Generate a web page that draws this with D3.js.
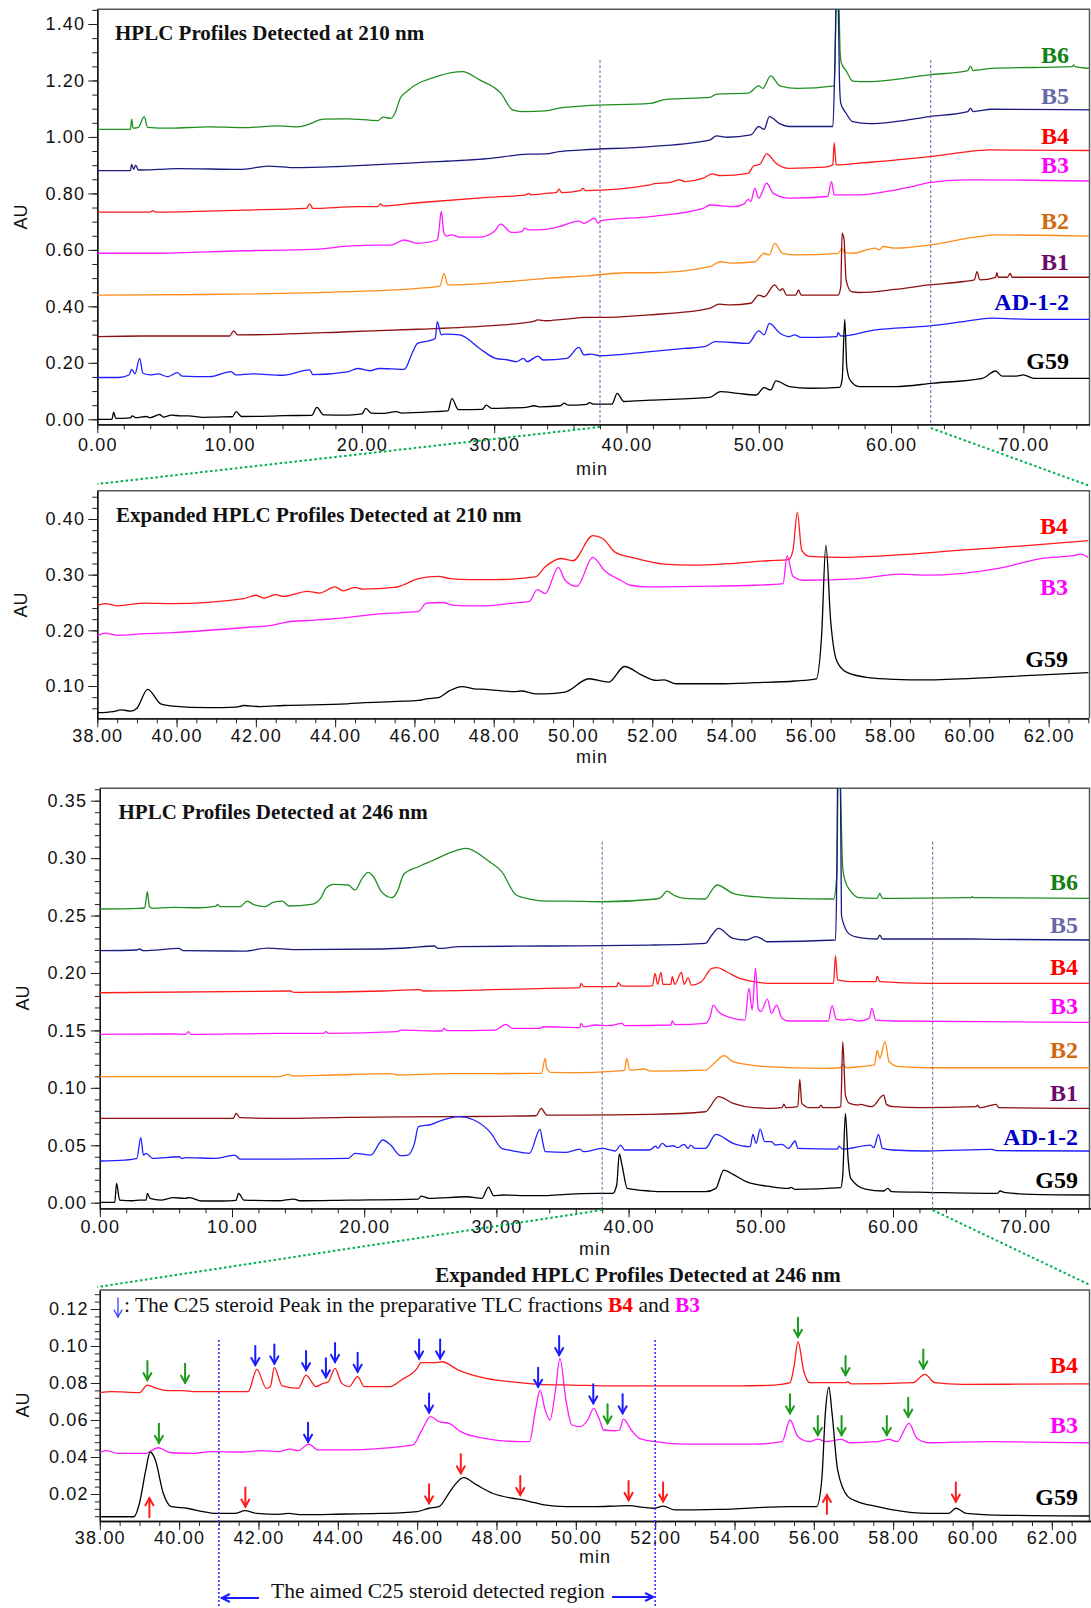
<!DOCTYPE html>
<html>
<head>
<meta charset="utf-8">
<script src="https://cdn.jsdelivr.net/npm/d3@7"></script>
<style>
  body { margin: 0; background: #fff; }
  svg text { font-family: "Liberation Sans", Arial, sans-serif; }
  .serif { font-family: "Liberation Serif", "Times New Roman", serif; }
</style>
</head>
<body>
<div id="chart"></div>
<script>
// ---- series / labels ----
const fullNames = ["B6", "B5", "B4", "B3", "B2", "B1", "AD-1-2", "G59"];
const expNames = ["B4", "B3", "G59"];
const lineColor = {"B6": "#1f8f1f", "B5": "#1a1a80", "B4": "#ff1a1a", "B3": "#ff1aff",
  "B2": "#ff8c1a", "B1": "#8b1010", "AD-1-2": "#1f1fff", "G59": "#000000"};
const labelColor = {"B6": "#138013", "B5": "#6868a8", "B4": "#ff0000", "B3": "#ff00ff",
  "B2": "#d0690f", "B1": "#6b0a6b", "AD-1-2": "#0000c8", "G59": "#000000"};

// ---- tick labels ----
const p1XTicks = [0, 10, 20, 30, 40, 50, 60, 70];
const p1YTicks = [0, 0.2, 0.4, 0.6, 0.8, 1.0, 1.2, 1.4];
const p2XTicks = [38, 40, 42, 44, 46, 48, 50, 52, 54, 56, 58, 60, 62];
const p2YTicks = [0.1, 0.2, 0.3, 0.4];
const p3XTicks = [0, 10, 20, 30, 40, 50, 60, 70];
const p3YTicks = [0, 0.05, 0.1, 0.15, 0.2, 0.25, 0.3, 0.35];
const p4XTicks = [38, 40, 42, 44, 46, 48, 50, 52, 54, 56, 58, 60, 62];
const p4YTicks = [0.02, 0.04, 0.06, 0.08, 0.1, 0.12];

// ---- 210 nm, full run [min, AU] ----
const uv210_G59 = [[0,0],[1.1,0],[1.24,0.025],[1.4,0.003],[2.5,0.005],[2.65,0.012],[2.9,0.006],[3.7,0.01],[4.0,0.006],[4.7,0.017],[5.0,0.008],[5.6,0.015],[6.3,0.012],[6.9,0.012],[8,0.007],[9,0.008],[10.2,0.009],[10.5,0.027],[10.9,0.01],[13,0.011],[14.1,0.013],[16.2,0.014],[16.6,0.042],[17.1,0.016],[19,0.015],[20.0,0.019],[20.3,0.039],[20.7,0.022],[21.5,0.021],[22.6,0.027],[23,0.022],[25.5,0.027],[26.5,0.03],[26.8,0.073],[27.3,0.034],[29.1,0.035],[29.4,0.05],[29.8,0.039],[31,0.04],[32.4,0.042],[33.0,0.048],[33.5,0.044],[35.0,0.048],[35.3,0.057],[35.6,0.05],[37.0,0.053],[37.2,0.059],[37.5,0.054],[38.9,0.054],[39.3,0.092],[39.8,0.063],[41.8,0.068],[46.3,0.078],[47.1,0.098],[48.4,0.092],[49.8,0.086],[50.4,0.112],[50.9,0.104],[51.3,0.136],[52.3,0.116],[53.9,0.11],[56.1,0.113],[56.3,0.14],[56.5,0.354],[56.65,0.187],[56.9,0.139],[57.6,0.116],[60.3,0.116],[63.2,0.128],[66.9,0.145],[67.9,0.171],[68.4,0.153],[69.4,0.153],[70,0.157],[70.8,0.145],[75,0.145]];
const uv210_AD = [[0,0.148],[1.6,0.148],[2.4,0.157],[2.6,0.177],[2.85,0.161],[3.2,0.216],[3.45,0.163],[4.0,0.157],[4.6,0.161],[5.3,0.151],[6.05,0.165],[6.4,0.153],[8.5,0.151],[10.1,0.169],[10.5,0.157],[11.7,0.161],[14,0.156],[16.05,0.175],[16.3,0.158],[18.9,0.168],[19.7,0.18],[20.6,0.172],[21.3,0.18],[23.2,0.177],[23.8,0.234],[24.2,0.269],[25.3,0.281],[25.55,0.287],[25.7,0.346],[26.0,0.299],[26.3,0.302],[27.4,0.299],[28.9,0.251],[30.1,0.216],[31.05,0.21],[31.7,0.204],[32.2,0.216],[32.5,0.204],[33.3,0.224],[33.7,0.21],[35.5,0.216],[36.4,0.255],[36.8,0.228],[37.3,0.231],[38,0.225],[39.2,0.228],[41.8,0.24],[44.4,0.251],[45.9,0.257],[46.7,0.275],[49.2,0.269],[50,0.313],[50.4,0.299],[50.8,0.34],[51.6,0.305],[52.3,0.293],[52.7,0.299],[53.2,0.29],[55.9,0.293],[56.0,0.307],[56.2,0.295],[58.7,0.316],[62.9,0.331],[65.5,0.346],[67.6,0.358],[70.8,0.354],[75,0.354]];
const uv210_B1 = [[0,0.293],[3.4,0.295],[10.0,0.295],[10.3,0.313],[10.6,0.299],[13.7,0.301],[18.9,0.31],[24.2,0.319],[29.5,0.331],[32.9,0.346],[33.3,0.352],[33.9,0.349],[35.2,0.354],[37,0.361],[38,0.361],[41.8,0.37],[46.3,0.393],[47,0.408],[47.9,0.405],[49.4,0.411],[50,0.44],[50.4,0.434],[51.2,0.476],[51.6,0.456],[51.8,0.463],[52.1,0.44],[52.8,0.44],[53.0,0.458],[53.2,0.44],[56,0.44],[56.2,0.47],[56.3,0.659],[56.45,0.635],[56.6,0.494],[57,0.452],[57.6,0.449],[60.3,0.46],[62.9,0.476],[65.5,0.488],[66.3,0.494],[66.5,0.523],[66.7,0.494],[67.9,0.503],[68.0,0.519],[68.1,0.503],[68.8,0.503],[69.0,0.517],[69.15,0.503],[75,0.503]];
const uv210_B2 = [[0,0.44],[8.4,0.442],[18.9,0.452],[24.2,0.464],[25.9,0.472],[26.2,0.517],[26.5,0.476],[29.5,0.482],[32.6,0.494],[33.9,0.499],[37,0.508],[40,0.519],[41.8,0.519],[46.3,0.541],[47.1,0.558],[47.9,0.553],[49.7,0.558],[50.4,0.588],[50.8,0.582],[51.2,0.623],[51.8,0.588],[52.9,0.582],[56,0.588],[56.3,0.606],[56.5,0.59],[57.1,0.588],[58.8,0.606],[59.1,0.6],[59.4,0.612],[60.3,0.606],[62.9,0.617],[66.6,0.647],[67.9,0.653],[75,0.649]];
const uv210_B3 = [[0,0.588],[4.2,0.588],[11,0.597],[16.3,0.602],[19.2,0.614],[21.1,0.617],[22.2,0.617],[23.2,0.635],[24.2,0.623],[25.7,0.635],[25.8,0.659],[26.0,0.736],[26.2,0.659],[26.4,0.649],[26.8,0.653],[27.4,0.645],[28.9,0.645],[30,0.665],[30.5,0.691],[31.3,0.662],[32.1,0.665],[32.3,0.677],[32.6,0.671],[33.9,0.673],[34.9,0.682],[36.4,0.702],[36.8,0.694],[37.6,0.712],[37.85,0.694],[38.1,0.704],[41.8,0.718],[45.8,0.747],[46.3,0.759],[48.1,0.753],[48.9,0.763],[49.2,0.779],[49.4,0.771],[49.7,0.818],[50,0.783],[50.6,0.836],[51.1,0.8],[52.3,0.783],[55.2,0.789],[55.5,0.842],[55.7,0.795],[57.6,0.795],[60.3,0.812],[61.6,0.824],[62.9,0.838],[65.5,0.848],[67.1,0.848],[75,0.844]];
const uv210_B4 = [[0,0.734],[4.0,0.734],[4.2,0.739],[4.4,0.734],[11,0.741],[15.8,0.747],[16.05,0.763],[16.3,0.747],[19.7,0.753],[21.2,0.753],[21.4,0.763],[21.6,0.756],[24.2,0.767],[29.5,0.786],[32.4,0.795],[32.6,0.8],[32.8,0.795],[33.9,0.8],[34.7,0.803],[34.9,0.815],[35.1,0.803],[36.5,0.81],[36.7,0.818],[36.9,0.81],[41.8,0.83],[42.1,0.835],[43.2,0.838],[44,0.848],[44.4,0.842],[45.8,0.854],[46.5,0.869],[47.1,0.863],[49.2,0.871],[49.6,0.897],[50.1,0.904],[50.6,0.94],[51.3,0.907],[52.3,0.889],[55,0.893],[55.6,0.901],[55.7,0.98],[55.85,0.901],[57.6,0.907],[62.9,0.93],[65.5,0.946],[67.4,0.954],[75,0.952]];
const uv210_B5 = [[0,0.881],[2.5,0.881],[2.6,0.903],[2.75,0.885],[2.9,0.9],[3.1,0.883],[4.6,0.885],[6.05,0.888],[11,0.885],[12.9,0.897],[15,0.891],[18.9,0.897],[24.2,0.909],[29.5,0.923],[32.6,0.939],[33.9,0.94],[34.9,0.948],[36.7,0.954],[41.8,0.966],[46.3,0.989],[46.8,1.004],[47.6,0.999],[49.4,1.007],[50,1.037],[50.4,1.027],[50.8,1.072],[51.6,1.046],[52.3,1.037],[55.6,1.037],[55.75,1.25],[55.9,1.6],[56.0,1.5],[56.1,1.2],[56.2,1.119],[56.6,1.084],[57.1,1.054],[58.4,1.047],[60.3,1.054],[62.9,1.072],[65.8,1.09],[66,1.102],[66.2,1.09],[67.6,1.098],[75,1.096]];
const uv210_B6 = [[0,1.027],[2.5,1.027],[2.6,1.063],[2.7,1.031],[3.1,1.034],[3.55,1.072],[3.8,1.034],[5.5,1.031],[8.4,1.036],[11,1.033],[13.7,1.039],[15,1.036],[15.8,1.042],[17.1,1.063],[18.9,1.064],[21.2,1.058],[21.6,1.07],[22.2,1.066],[22.5,1.084],[22.9,1.137],[23.4,1.161],[25.8,1.216],[27.6,1.231],[28.9,1.202],[30.5,1.155],[31.4,1.096],[32.1,1.09],[33.9,1.092],[34.9,1.102],[36.8,1.11],[41.8,1.119],[43,1.133],[46.3,1.14],[46.8,1.152],[49.2,1.155],[50,1.181],[50.3,1.172],[50.9,1.216],[51.6,1.181],[52.9,1.172],[55.7,1.181],[55.8,1.35],[55.9,1.6],[56.05,1.5],[56.15,1.3],[56.25,1.261],[56.6,1.235],[57.1,1.198],[58.2,1.196],[62.9,1.22],[65.8,1.235],[66,1.251],[66.2,1.235],[67.6,1.243],[73.7,1.249],[73.8,1.255],[73.9,1.249],[75,1.243]];

// ---- 210 nm, expanded ----
const exp210_G59 = [[38,0.052],[38.4,0.054],[38.6,0.057],[38.85,0.055],[39.0,0.06],[39.27,0.094],[39.6,0.068],[39.9,0.064],[40.8,0.061],[41.5,0.062],[41.7,0.065],[42.1,0.063],[42.7,0.065],[44.3,0.068],[44.75,0.07],[46.1,0.074],[46.3,0.077],[46.6,0.079],[46.9,0.092],[47.2,0.099],[47.5,0.095],[47.8,0.094],[48.5,0.09],[48.7,0.091],[49.05,0.086],[49.3,0.086],[49.8,0.089],[50.4,0.113],[50.9,0.107],[51.3,0.135],[51.75,0.119],[52.1,0.11],[52.3,0.111],[52.6,0.104],[53.7,0.104],[54.6,0.106],[55.6,0.109],[56.14,0.113],[56.27,0.188],[56.38,0.353],[56.5,0.218],[56.65,0.146],[56.9,0.125],[57.46,0.115],[58.1,0.112],[58.9,0.111],[60.7,0.116],[63,0.124]];
const exp210_B3 = [[38,0.19],[38.2,0.195],[38.5,0.191],[39.2,0.194],[39.9,0.196],[41.9,0.206],[42.4,0.209],[42.8,0.215],[43.4,0.218],[44.3,0.223],[45.2,0.23],[46.1,0.234],[46.3,0.249],[46.7,0.25],[47,0.245],[47.8,0.244],[48.5,0.249],[48.9,0.252],[49.1,0.273],[49.3,0.266],[49.63,0.313],[49.8,0.29],[50.1,0.279],[50.5,0.331],[50.8,0.307],[51.2,0.29],[51.45,0.281],[51.9,0.278],[53.2,0.279],[54.6,0.281],[55.3,0.284],[55.4,0.334],[55.55,0.297],[55.8,0.29],[57.2,0.293],[58.3,0.301],[58.9,0.299],[60.7,0.311],[61.8,0.329],[62.7,0.335],[62.8,0.337],[63,0.331]];
const exp210_B4 = [[38,0.245],[38.2,0.248],[38.5,0.244],[39.2,0.249],[39.9,0.248],[41.7,0.257],[42,0.263],[42.2,0.258],[42.5,0.264],[42.7,0.261],[43.3,0.27],[43.6,0.267],[44,0.278],[44.2,0.271],[44.5,0.277],[44.7,0.274],[45.5,0.277],[45.7,0.281],[46.1,0.293],[46.6,0.297],[46.9,0.293],[47.4,0.291],[48,0.291],[49.05,0.296],[49.3,0.314],[49.7,0.329],[50,0.325],[50.5,0.37],[50.75,0.365],[51.05,0.341],[51.6,0.329],[52.3,0.319],[53,0.317],[54,0.32],[54.9,0.325],[55.44,0.327],[55.55,0.344],[55.66,0.412],[55.77,0.344],[55.96,0.333],[56.75,0.331],[58.1,0.335],[59.8,0.344],[61.6,0.353],[63,0.361]];

// ---- 246 nm, full run ----
const uv246_G59 = [[0,0.0003],[1.13,0.0003],[1.27,0.0168],[1.5,0.0023],[2.5,0.0017],[3.0,0.0023],[3.5,0.0023],[3.6,0.0081],[3.8,0.0038],[4.6,0.0023],[5.6,0.0044],[6.4,0.0038],[6.8,0.0044],[7.7,0.0015],[9.3,0.0015],[10.3,0.002],[10.5,0.0081],[10.9,0.0023],[13.5,0.0017],[14.7,0.0032],[15.1,0.0017],[18.8,0.0023],[24.1,0.0032],[24.3,0.0058],[24.9,0.0038],[27.8,0.0052],[28.9,0.0038],[29.4,0.0136],[29.8,0.0061],[30.5,0.0067],[32.5,0.0061],[33.7,0.0061],[35.3,0.0073],[37.6,0.0081],[38.8,0.0081],[39.1,0.0154],[39.3,0.0424],[39.5,0.0328],[39.9,0.0125],[41.6,0.0102],[42.6,0.0096],[45.8,0.0096],[46.6,0.0125],[47.2,0.0284],[47.9,0.0247],[48.9,0.0183],[50.8,0.0139],[52.1,0.0125],[52.3,0.0133],[52.6,0.0116],[56.05,0.0131],[56.2,0.0241],[56.4,0.0778],[56.6,0.0386],[56.8,0.0212],[57.9,0.0119],[59.3,0.0102],[59.6,0.0125],[59.9,0.0096],[62.6,0.009],[67.9,0.0081],[68.1,0.0102],[68.4,0.009],[70.5,0.0073],[75,0.0067]];
const uv246_AD = [[0,0.0363],[1.9,0.0371],[2.8,0.0386],[3.1,0.0566],[3.3,0.0415],[3.5,0.043],[4.0,0.0386],[6.0,0.04],[6.2,0.0386],[6.5,0.0392],[8.8,0.0386],[10.2,0.0415],[10.6,0.038],[13.5,0.038],[18.8,0.0386],[19.3,0.043],[20.5,0.0415],[21.4,0.0546],[22,0.0502],[22.75,0.0409],[23.3,0.0415],[23.8,0.0517],[24.1,0.0662],[25.1,0.0682],[25.6,0.0705],[27.2,0.0749],[28.3,0.072],[29.6,0.0604],[30.4,0.0473],[30.9,0.0459],[32.0,0.0435],[32.5,0.043],[33.3,0.0638],[33.5,0.0531],[33.7,0.0444],[35.3,0.0438],[36.3,0.0467],[36.6,0.0444],[38,0.0473],[39.0,0.045],[39.4,0.0502],[39.7,0.0459],[41.6,0.0459],[42.05,0.0493],[42.2,0.0473],[42.55,0.0517],[42.9,0.0488],[43.4,0.0496],[43.7,0.0479],[44.2,0.0508],[44.5,0.0473],[44.7,0.0502],[45,0.0473],[45.8,0.0473],[46.6,0.0595],[47.9,0.0517],[49.2,0.0488],[49.4,0.0595],[49.65,0.0517],[49.95,0.0641],[50.3,0.0531],[50.8,0.0531],[51.1,0.0502],[51.6,0.0508],[52.1,0.0473],[52.6,0.0537],[52.8,0.0473],[55.8,0.0467],[55.9,0.0493],[56.2,0.0467],[58.3,0.0502],[58.55,0.0479],[58.9,0.0595],[59.2,0.0473],[60,0.0459],[62.6,0.045],[67.5,0.0464],[67.9,0.0453],[75,0.045]];
const uv246_B1 = [[0,0.0734],[10.1,0.0734],[10.3,0.0778],[10.6,0.074],[13.5,0.0734],[18.8,0.0743],[26.7,0.0749],[33.0,0.0757],[33.4,0.0821],[33.6,0.0792],[33.8,0.0763],[36.3,0.0763],[41.6,0.0769],[45.8,0.0792],[46.8,0.0923],[47.9,0.0865],[49.5,0.0827],[50.8,0.0821],[51.6,0.0827],[51.75,0.0859],[51.9,0.0827],[52.8,0.0836],[52.95,0.1074],[53.1,0.0865],[53.7,0.0827],[54.4,0.0827],[54.55,0.085],[54.7,0.0827],[55.7,0.0827],[56.05,0.0836],[56.2,0.1402],[56.4,0.0937],[56.7,0.0865],[57.4,0.085],[57.5,0.0856],[58.4,0.0836],[59.3,0.0937],[59.5,0.0856],[60,0.0836],[62.1,0.0827],[66.3,0.0836],[66.4,0.085],[66.55,0.0827],[67.8,0.0856],[68.0,0.0827],[75,0.0821]];
const uv246_B2 = [[0,0.1097],[13.5,0.1097],[14.3,0.1117],[14.6,0.1103],[17.7,0.1112],[22.1,0.1123],[22.5,0.1112],[26.2,0.1123],[33.4,0.1126],[33.7,0.1257],[33.8,0.117],[34.1,0.1135],[36.3,0.1132],[38.4,0.1141],[39.7,0.1155],[39.85,0.1257],[40.1,0.1155],[41.2,0.1164],[41.6,0.1146],[45.8,0.1155],[46.6,0.1228],[47.2,0.128],[47.9,0.1228],[48.9,0.1204],[50.5,0.1184],[54.7,0.117],[56,0.1175],[56.2,0.1204],[56.5,0.1175],[57.5,0.1184],[58.6,0.1199],[58.8,0.1326],[59.0,0.1257],[59.4,0.1402],[59.7,0.1228],[60.5,0.1184],[62.6,0.1175],[75,0.1175]];
const uv246_B3 = [[0,0.1466],[5.6,0.1469],[6.5,0.1466],[6.7,0.1489],[6.9,0.1466],[13.5,0.1474],[16.9,0.1474],[17.1,0.1489],[17.3,0.1474],[22.5,0.1489],[22.75,0.1503],[25.9,0.1495],[26,0.1518],[26.3,0.1498],[29.9,0.1503],[30.7,0.1553],[31.2,0.1518],[33.2,0.1518],[33.6,0.1532],[36.3,0.1524],[36.4,0.1561],[36.6,0.153],[37.5,0.1547],[38.5,0.1541],[39.5,0.1561],[39.7,0.1541],[43.2,0.1547],[43.3,0.1582],[43.5,0.155],[45.8,0.1561],[46.2,0.1634],[46.4,0.1721],[46.8,0.1663],[47.9,0.1605],[48.8,0.159],[49.1,0.1866],[49.35,0.168],[49.6,0.204],[49.8,0.1692],[50.0,0.1663],[50.5,0.1773],[50.8,0.1648],[51.2,0.1721],[51.6,0.1605],[52.1,0.1582],[55.1,0.1582],[55.4,0.1715],[55.7,0.1599],[56.2,0.159],[56.7,0.1599],[57.4,0.1582],[58.2,0.1605],[58.4,0.1692],[58.7,0.159],[60,0.1582],[66.8,0.1576],[75,0.157]];
const uv246_B4 = [[0,0.1828],[14.4,0.1843],[14.7,0.1831],[21.4,0.1843],[24.2,0.1855],[24.5,0.1843],[33.8,0.1866],[36.3,0.1872],[36.4,0.191],[36.6,0.1881],[39.1,0.1881],[39.2,0.1915],[39.5,0.1886],[41.6,0.1886],[41.8,0.1889],[42.0,0.1997],[42.2,0.1901],[42.45,0.2005],[42.6,0.1901],[43.2,0.1901],[43.3,0.1968],[43.5,0.1901],[44.0,0.2005],[44.2,0.1901],[44.5,0.1959],[44.75,0.1895],[45.5,0.1924],[46.3,0.204],[46.7,0.2046],[47.4,0.2011],[48.4,0.1953],[49.5,0.1924],[50.5,0.191],[52.6,0.191],[55.5,0.191],[55.65,0.215],[55.8,0.1939],[56.8,0.1924],[58.7,0.1924],[58.8,0.1973],[59.0,0.1924],[62.6,0.191],[75,0.191]];
const uv246_B5 = [[0,0.2194],[2.8,0.22],[3.0,0.2209],[3.3,0.2194],[6.0,0.2214],[6.3,0.2194],[10.9,0.2191],[12.7,0.2217],[14.8,0.2203],[21.4,0.2209],[23.5,0.222],[25.3,0.2235],[25.6,0.2214],[27.2,0.2229],[33.8,0.2235],[41.6,0.2243],[45.8,0.2258],[46.3,0.2331],[46.8,0.2388],[47.9,0.2301],[48.9,0.2287],[49.6,0.2316],[50.0,0.2301],[50.5,0.2272],[55.65,0.2287],[55.75,0.285],[55.85,0.42],[56.0,0.4],[56.1,0.2505],[56.3,0.2417],[56.8,0.2331],[57.9,0.2301],[58.8,0.2296],[59.0,0.233],[59.2,0.2296],[65.9,0.2296],[67.5,0.2293],[75,0.2287]];
const uv246_B6 = [[0,0.2557],[3.0,0.2563],[3.4,0.2568],[3.6,0.2708],[3.75,0.2577],[4.0,0.2563],[5.5,0.2571],[7.5,0.2568],[8.8,0.2583],[8.9,0.2597],[9.1,0.2577],[10.6,0.2577],[11.15,0.2626],[11.7,0.2592],[12.5,0.2577],[13.1,0.2615],[13.8,0.2626],[14.3,0.2583],[16.0,0.2597],[16.7,0.265],[17.1,0.2737],[17.7,0.2772],[18.8,0.2766],[19.3,0.2722],[19.85,0.2824],[20.3,0.2876],[20.7,0.2838],[21.3,0.2708],[22.1,0.2656],[22.5,0.2708],[23,0.2859],[24.1,0.2925],[25.1,0.2975],[26.7,0.3056],[27.1,0.3071],[27.7,0.3085],[29.4,0.2975],[30.4,0.2882],[31.5,0.2679],[32.5,0.2644],[33.8,0.2626],[35.3,0.2626],[38,0.262],[42.1,0.2644],[42.5,0.2664],[42.9,0.2713],[43.4,0.2679],[44.2,0.265],[45.8,0.2644],[46.3,0.2722],[46.7,0.2766],[47.9,0.2693],[49.5,0.2664],[52.1,0.265],[55.5,0.2644],[55.75,0.285],[55.9,0.42],[56.05,0.35],[56.2,0.2911],[56.4,0.2795],[56.8,0.2713],[57.4,0.2656],[58.8,0.265],[59.0,0.2693],[59.2,0.265],[65.9,0.2656],[66.0,0.2664],[66.1,0.2656],[75,0.265]];

// ---- 246 nm, expanded ----
const exp246_G59 = [[38,0.0077],[38.86,0.0077],[39.0,0.015],[39.16,0.033],[39.27,0.0427],[39.4,0.0384],[39.6,0.0204],[39.8,0.0132],[40.2,0.0123],[40.6,0.0105],[40.9,0.0095],[41.4,0.0095],[41.66,0.011],[41.96,0.0095],[42.5,0.009],[42.75,0.0095],[43.1,0.0088],[44.2,0.0092],[45.1,0.0095],[46.0,0.0105],[46.3,0.0123],[46.55,0.0132],[46.8,0.0204],[46.95,0.0249],[47.17,0.0288],[47.5,0.0249],[47.9,0.0204],[48.4,0.0177],[48.6,0.0171],[48.96,0.0153],[49.2,0.0141],[49.75,0.0132],[50.5,0.0132],[51.0,0.0135],[51.35,0.0137],[51.7,0.0128],[51.99,0.0123],[52.2,0.0135],[52.5,0.0114],[53.6,0.0117],[55.4,0.0132],[56.07,0.0132],[56.2,0.0276],[56.29,0.0636],[56.38,0.0777],[56.46,0.0636],[56.6,0.033],[56.86,0.0186],[57.1,0.0159],[57.6,0.0132],[58,0.0114],[58.9,0.0095],[59.4,0.0095],[59.58,0.0123],[59.84,0.0095],[60.6,0.0086],[63,0.0081]];
const exp246_B3 = [[38,0.0423],[38.15,0.0434],[38.46,0.042],[39.16,0.042],[39.47,0.045],[39.8,0.0423],[40.4,0.042],[40.8,0.0429],[41.6,0.0427],[42.05,0.0434],[42.5,0.0429],[42.8,0.0443],[43.0,0.0434],[43.27,0.047],[43.5,0.0438],[44.2,0.0438],[45.1,0.0447],[45.9,0.0465],[46.1,0.0537],[46.34,0.0618],[46.55,0.0591],[46.8,0.0582],[47.1,0.0537],[47.7,0.0501],[48.6,0.0483],[48.83,0.0483],[48.98,0.065],[49.1,0.0762],[49.22,0.066],[49.35,0.06],[49.48,0.075],[49.6,0.0933],[49.75,0.0708],[49.9,0.0573],[50.1,0.0564],[50.3,0.06],[50.45,0.0663],[50.6,0.06],[50.7,0.0546],[51.0,0.0542],[51.1,0.0546],[51.2,0.0605],[51.4,0.0546],[51.6,0.0501],[52.0,0.0483],[52.7,0.047],[54.5,0.047],[55.2,0.0483],[55.4,0.06],[55.6,0.051],[55.9,0.0483],[56.1,0.0497],[56.3,0.0483],[56.7,0.0495],[56.9,0.0477],[57.6,0.0483],[57.9,0.0495],[58.1,0.0483],[58.4,0.0582],[58.6,0.0501],[58.9,0.0477],[60.4,0.0483],[63,0.0477]];
const exp246_B4 = [[38,0.0748],[38.3,0.0753],[39.0,0.0748],[39.2,0.0789],[39.43,0.0771],[39.7,0.0759],[40.1,0.0759],[40.4,0.0753],[41.74,0.0753],[41.96,0.0874],[42.2,0.0771],[42.3,0.078],[42.4,0.0883],[42.6,0.0784],[43.0,0.0771],[43.2,0.0843],[43.45,0.078],[43.6,0.0795],[43.76,0.0807],[43.93,0.0879],[44.1,0.0798],[44.28,0.078],[44.5,0.0834],[44.67,0.078],[45.3,0.078],[45.6,0.0816],[46.0,0.0879],[46.1,0.091],[46.5,0.091],[46.63,0.0915],[47.04,0.087],[47.74,0.0825],[48.6,0.0802],[49.05,0.0793],[49.9,0.0789],[51.0,0.0784],[52.7,0.0784],[54.1,0.0784],[55.0,0.0789],[55.4,0.0802],[55.5,0.0888],[55.6,0.1023],[55.75,0.0861],[55.9,0.0802],[56.8,0.0802],[56.85,0.0807],[56.95,0.0795],[58.5,0.0802],[58.8,0.0847],[59.05,0.0802],[59.75,0.0793],[63,0.0795]];

// ---- peak markers in the expanded 246 nm panel [min, AU at arrow tip] ----
const greenArrows = [[39.2,0.0816],[40.15,0.0802],[39.49,0.0477],[50.8,0.0582],[55.6,0.105],[56.8,0.0843],[58.76,0.0879],[55.4,0.0636],[56.1,0.0519],[56.7,0.0519],[57.84,0.0519],[58.38,0.0618]];
const blueArrows = [[41.92,0.0897],[42.4,0.0906],[43.2,0.087],[43.7,0.0831],[43.93,0.0914],[44.5,0.0861],[46.05,0.0933],[46.58,0.0933],[49.05,0.078],[43.25,0.0483],[46.3,0.064],[49.58,0.0951],[50.44,0.069],[51.18,0.0636]];
const redArrows = [[41.67,0.0132],[46.3,0.015],[47.1,0.0312],[48.6,0.0195],[51.33,0.0168],[52.2,0.0159],[59.58,0.0159]];
const redUpArrows = [[39.25,0.0177],[56.33,0.0195]];
const regionBounds = [41, 52];
const zoomBounds = [38, 63];

// ---------------------------------------------------------------
const svg = d3.select("#chart").append("svg")
  .attr("width", 1091).attr("height", 1608);
svg.append("rect").attr("width", 1091).attr("height", 1608).attr("fill", "#fff");

const panels = [
  {id: "p1", left: 97.3, right: 1089.5, top: 9.3, bottom: 424.3, xDomain: [0, 75], xEnd: 1089.5,
   yRef: [0, 1.4], yRefPx: [419.3, 24], xTicks: p1XTicks, xMinor: 2, yTicks: p1YTicks, yMinor: 0.05,
   xPad: 4.5, yPad: 3, title: "HPLC Profiles Detected at 210 nm", titleX: 115, titleY: 39.5,
   names: fullNames, data: [uv210_B6, uv210_B5, uv210_B4, uv210_B3, uv210_B2, uv210_B1, uv210_AD, uv210_G59],
   labelX: 1069, labelY: [62.7, 104.3, 144, 172.7, 229.3, 270, 310, 368.7], auX: 21, auY: 217, minX: 592, minY: 475},
  {id: "p2", left: 97.3, right: 1089.5, top: 490.7, bottom: 718.3, xDomain: [38, 63], xEnd: 1088.3,
   yRef: [0.1, 0.4], yRefPx: [686, 519], xTicks: p2XTicks, xMinor: 0.5, yTicks: p2YTicks, yMinor: 0.02,
   xPad: 2, yPad: 3, title: "Expanded HPLC Profiles Detected at 210 nm", titleX: 116, titleY: 522.3,
   names: expNames, data: [exp210_B4, exp210_B3, exp210_G59],
   labelX: 1068, labelY: [534.3, 595, 667.3], auX: 21, auY: 605, minX: 592, minY: 763},
  {id: "p3", left: 99.8, right: 1089.5, top: 788.3, bottom: 1208.3, xDomain: [0, 75], xEnd: 1091.3,
   yRef: [0, 0.35], yRefPx: [1202.7, 800.7], xTicks: p3XTicks, xMinor: 2, yTicks: p3YTicks, yMinor: 0.01,
   xPad: 3, yPad: 3.5, title: "HPLC Profiles Detected at 246 nm", titleX: 118.5, titleY: 819.3,
   names: fullNames, data: [uv246_B6, uv246_B5, uv246_B4, uv246_B3, uv246_B2, uv246_B1, uv246_AD, uv246_G59],
   labelX: 1078, labelY: [890, 932.7, 975, 1014.3, 1058.3, 1101, 1145, 1188.3], auX: 22.6, auY: 998, minX: 595, minY: 1255},
  {id: "p4", left: 99.8, right: 1089.5, top: 1290, bottom: 1521, xDomain: [38, 63], xEnd: 1091.5,
   yRef: [0.02, 0.12], yRefPx: [1494, 1309], xTicks: p4XTicks, xMinor: 0.5, yTicks: p4YTicks, yMinor: 0.004,
   xPad: 1, yPad: 2, title: null,
   names: expNames, data: [exp246_B4, exp246_B3, exp246_G59],
   labelX: 1078, labelY: [1372.7, 1432.7, 1505], auX: 22.6, auY: 1405, minX: 595, minY: 1563}
];

const fmt = d3.format(".2f");
const scales = {};

function minorTicks(domain, step) {
  const out = [];
  const n0 = Math.ceil(domain[0] / step - 1e-6), n1 = Math.floor(domain[1] / step + 1e-6);
  for (let i = n0; i <= n1; i++) out.push(+(i * step).toFixed(5));
  return out;
}

function styleAxis(g) {
  g.select(".domain").attr("stroke", "#111").attr("stroke-width", 1.3);
  g.selectAll(".tick line").attr("stroke", "#222").attr("stroke-width", 1);
  g.selectAll(".tick text").attr("font-size", 18).attr("fill", "#111")
    .attr("font-family", "Liberation Sans, Arial, sans-serif").style("letter-spacing", "1.2px");
}

panels.forEach(p => {
  const x = d3.scaleLinear().domain(p.xDomain).range([p.left, p.xEnd]);
  const yRef = d3.scaleLinear().domain(p.yRef).range(p.yRefPx);
  const y = d3.scaleLinear().domain([yRef.invert(p.bottom), yRef.invert(p.top)]).range([p.bottom, p.top]);
  scales[p.id] = {x, y};

  svg.append("clipPath").attr("id", "clip-" + p.id).append("rect")
    .attr("x", p.left).attr("y", p.top).attr("width", p.right - p.left).attr("height", p.bottom - p.top);

  // frame (top + right)
  svg.append("path").attr("d", `M${p.left},${p.top}H${p.right}V${p.bottom}`)
    .attr("fill", "none").attr("stroke", "#555").attr("stroke-width", 1.5);

  // x axis
  const gxm = svg.append("g").attr("transform", `translate(0,${p.bottom})`)
    .call(d3.axisBottom(x).tickValues(minorTicks(p.xDomain, p.xMinor)).tickSize(5).tickSizeOuter(0).tickFormat(""));
  styleAxis(gxm);
  const gx = svg.append("g").attr("transform", `translate(0,${p.bottom})`)
    .call(d3.axisBottom(x).tickValues(p.xTicks).tickSize(9).tickSizeOuter(0).tickPadding(p.xPad).tickFormat(fmt));
  styleAxis(gx);

  // y axis
  const gym = svg.append("g").attr("transform", `translate(${p.left},0)`)
    .call(d3.axisLeft(y).tickValues(minorTicks(y.domain(), p.yMinor)).tickSize(5).tickSizeOuter(0).tickFormat(""));
  styleAxis(gym);
  const gy = svg.append("g").attr("transform", `translate(${p.left},0)`)
    .call(d3.axisLeft(y).tickValues(p.yTicks).tickSize(9).tickSizeOuter(0).tickPadding(p.yPad).tickFormat(fmt));
  styleAxis(gy);

  // axis titles
  svg.append("text").attr("transform", `translate(${p.auX},${p.auY}) rotate(-90)`)
    .attr("text-anchor", "middle").attr("dy", "0.36em").attr("font-size", 18).attr("fill", "#111").text("AU");
  svg.append("text").attr("x", p.minX).attr("y", p.minY).attr("text-anchor", "middle")
    .attr("font-size", 18).attr("fill", "#111").style("letter-spacing", "1px").text("min");

  // traces
  const line = d3.line().x(d => x(d[0])).y(d => y(d[1])).curve(d3.curveMonotoneX);
  const gl = svg.append("g").attr("clip-path", `url(#clip-${p.id})`);
  p.names.forEach((name, i) => {
    gl.append("path").datum(p.data[i]).attr("d", line)
      .attr("fill", "none").attr("stroke", lineColor[name]).attr("stroke-width", 1.3)
      .attr("stroke-linejoin", "round");
  });

  // series labels
  p.names.forEach((name, i) => {
    svg.append("text").attr("class", "serif").attr("x", p.labelX).attr("y", p.labelY[i])
      .attr("text-anchor", "end").attr("font-size", 24).attr("font-weight", "bold")
      .attr("fill", labelColor[name]).text(name);
  });

  if (p.title) {
    svg.append("text").attr("class", "serif").attr("x", p.titleX).attr("y", p.titleY)
      .attr("font-size", 21).attr("font-weight", "bold").attr("fill", "#111").text(p.title);
  }
});

// dashed guides marking the expanded window
const guideTops = {p1: 60, p3: 841.7};
["p1", "p3"].forEach(id => {
  const {x} = scales[id];
  const pb = panels.find(p => p.id === id).bottom;
  zoomBounds.forEach(t => {
    svg.append("line").attr("x1", x(t)).attr("x2", x(t)).attr("y1", guideTops[id]).attr("y2", pb)
      .attr("stroke", "#7a5aa8").attr("stroke-width", 1).attr("stroke-dasharray", "3,2");
  });
});

// green dotted connectors
const conn = [
  [scales.p1.x(zoomBounds[0]), 427, 97.3, 484], [scales.p1.x(zoomBounds[1]), 428, 1090, 486],
  [scales.p3.x(zoomBounds[0]), 1210, 97.3, 1287], [scales.p3.x(zoomBounds[1]), 1210, 1090, 1285]
];
conn.forEach(c => {
  svg.append("line").attr("x1", c[0]).attr("y1", c[1]).attr("x2", c[2]).attr("y2", c[3])
    .attr("stroke", "#00b050").attr("stroke-width", 2).attr("stroke-dasharray", "2.5,2.5");
});

// ---- expanded 246 nm extras ----
const x4 = scales.p4.x, y4 = scales.p4.y;

svg.append("text").attr("class", "serif").attr("x", 638).attr("y", 1281.7).attr("text-anchor", "middle")
  .attr("font-size", 21).attr("font-weight", "bold").attr("fill", "#111")
  .text("Expanded HPLC Profiles Detected at 246 nm");

function arrow(px, tipY, dir, color, len, w) {
  // dir = 1 points down, -1 points up
  const tail = tipY - dir * len;
  const g = svg.append("g").attr("stroke", color).attr("stroke-width", w).attr("fill", "none")
    .attr("stroke-linecap", "round");
  g.append("line").attr("x1", px).attr("x2", px).attr("y1", tail).attr("y2", tipY);
  g.append("path").attr("d", `M${px - 4},${tipY - dir * 7}L${px},${tipY}L${px + 4},${tipY - dir * 7}`);
}

greenArrows.forEach(d => arrow(x4(d[0]), y4(d[1]), 1, "#1a9a1a", 19, 2));
blueArrows.forEach(d => arrow(x4(d[0]), y4(d[1]), 1, "#1a1aff", 19, 2));
redArrows.forEach(d => arrow(x4(d[0]), y4(d[1]), 1, "#ff1a1a", 19, 2));
redUpArrows.forEach(d => arrow(x4(d[0]), y4(d[1]), -1, "#ff1a1a", 19, 2));

// legend line
arrow(118, 1317, 1, "#3a3aff", 19, 1.3);
const leg = svg.append("text").attr("class", "serif").attr("x", 124).attr("y", 1312)
  .attr("font-size", 21.5).attr("fill", "#111");
leg.append("tspan").text(": The C25 steroid Peak in the preparative TLC fractions ");
leg.append("tspan").attr("font-weight", "bold").attr("fill", "#ff0000").text("B4");
leg.append("tspan").text(" and ");
leg.append("tspan").attr("font-weight", "bold").attr("fill", "#ff00ff").text("B3");

// aimed region bounds
regionBounds.forEach(t => {
  svg.append("line").attr("x1", x4(t)).attr("x2", x4(t)).attr("y1", 1340).attr("y2", 1608)
    .attr("stroke", "#2a2aff").attr("stroke-width", 1.5).attr("stroke-dasharray", "2,2");
});

function hArrow(x1, x2, yy) {
  const dir = x2 > x1 ? 1 : -1;
  const g = svg.append("g").attr("stroke", "#1a1aff").attr("stroke-width", 2).attr("fill", "none");
  g.append("line").attr("x1", x1).attr("x2", x2).attr("y1", yy).attr("y2", yy);
  g.append("path").attr("d", `M${x2 - dir * 8},${yy - 4}L${x2},${yy}L${x2 - dir * 8},${yy + 4}`);
}
hArrow(259, x4(regionBounds[0]) + 3, 1598);
hArrow(612, x4(regionBounds[1]) - 2, 1597);
svg.append("text").attr("class", "serif").attr("x", 271).attr("y", 1598)
  .attr("font-size", 21.5).attr("fill", "#111").text("The aimed C25 steroid detected region");
</script>
</body>
</html>
